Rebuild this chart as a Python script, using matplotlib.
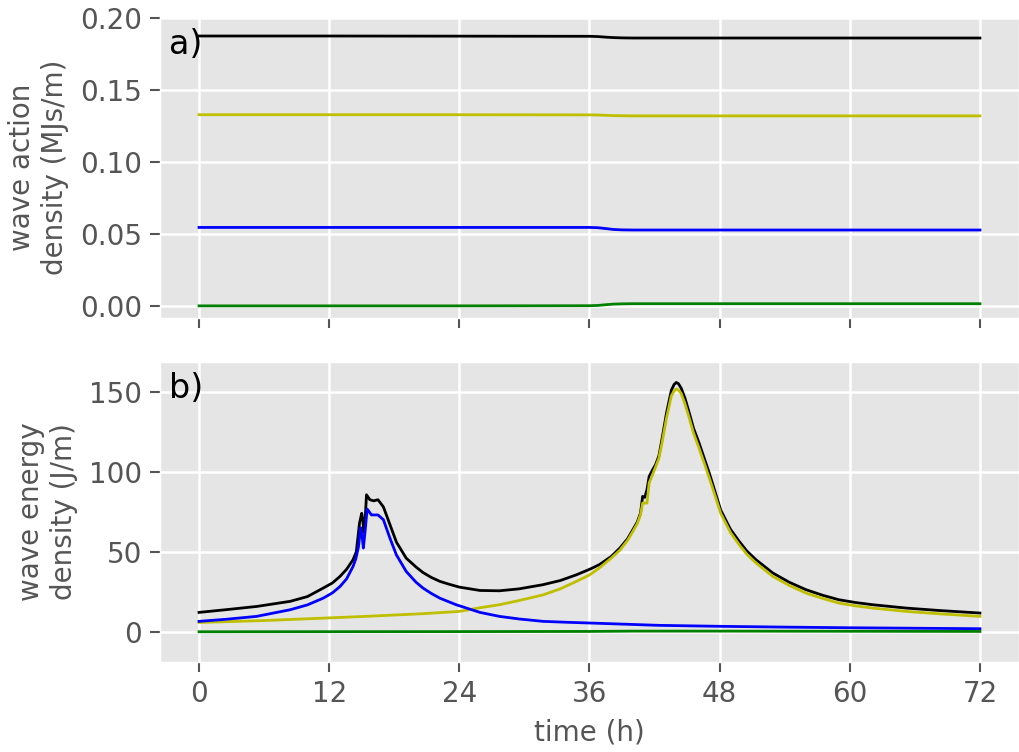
import matplotlib.pyplot as plt

plt.style.use("ggplot")

# panel a) wave action density (MJs/m)
t_a = [0, 12, 24, 36, 36.8, 37.5, 38.2, 39.0, 40, 48, 60, 72]
action_total = [0.1875, 0.1875, 0.1874, 0.1873, 0.1871, 0.1867, 0.1864, 0.1862, 0.1861, 0.1861, 0.1861, 0.1861]
action_swell = [0.1328, 0.1328, 0.1328, 0.1327, 0.1326, 0.1324, 0.1322, 0.1321, 0.1320, 0.1320, 0.1320, 0.1320]
action_sea = [0.0545, 0.0545, 0.0545, 0.0545, 0.0543, 0.0537, 0.0531, 0.0528, 0.0527, 0.0527, 0.0527, 0.0527]
action_other = [0.0000, 0.0000, 0.0000, 0.0001, 0.0003, 0.0008, 0.0012, 0.0014, 0.0015, 0.0015, 0.0015, 0.0015]

# panel b) wave energy density (J/m)
t_tot = [0, 2.5, 5.3, 8.4, 10, 11.45, 12.3, 13.0, 13.6, 14.2, 14.5, 14.8, 15.0, 15.1, 15.2, 15.3, 15.44,
         15.75, 16.1, 16.5, 17.0, 17.6, 18.2, 19.1, 20.0, 20.65, 21.4, 22.2, 23.0, 24.0, 25.9, 27.7,
         29.5, 31.7, 33.3, 34.8, 36.0, 36.9, 38.0, 38.8, 39.5, 40.0, 40.4, 40.7, 40.9, 41.1, 41.3, 41.5,
         41.8, 42.1, 42.4, 42.7, 43.1, 43.55, 43.8, 44.0, 44.2, 44.45, 44.8, 45.2, 45.6, 46.1, 46.6,
         47.05, 47.6, 48.1, 49.0, 49.8, 50.5, 51.35, 52.9, 54.4, 55.95, 57.5, 59.0, 60.5, 62.1, 65.2,
         68.2, 72.0]
energy_total = [12.1, 13.8, 15.8, 19.0, 22.0, 27.3, 30.5, 34.6, 39.0, 45.0, 50.0, 68.0, 74.0, 70.0, 62.0,
                68.0, 85.6, 82.5, 81.8, 82.5, 78.0, 67.0, 56.0, 46.0, 40.5, 37.0, 34.0, 31.5, 29.8,
                27.9, 25.8, 25.6, 26.8, 29.4, 32.0, 35.6, 39.0, 41.9, 47.0, 52.3, 58.0, 63.8, 68.5,
                74.0, 84.6, 84.0, 88.8, 97.0, 101.0, 104.5, 110.0, 121.0, 136.7, 151.0, 154.5, 155.8,
                155.0, 152.3, 146.0, 136.7, 127.0, 118.0, 108.0, 99.0, 87.0, 76.0, 64.0, 56.5, 50.5,
                45.0, 36.7, 31.0, 26.3, 22.8, 20.0, 18.3, 16.9, 14.8, 13.3, 11.7]
t_swell = [0, 6, 11.45, 16, 20.65, 24.0, 25.9, 27.7, 29.5, 31.7, 33.3, 34.8, 36.0, 36.9, 38.0, 38.8,
           39.5, 40.0, 40.4, 40.7, 40.9, 41.3, 41.5, 41.8, 42.1, 42.4, 42.7, 43.1, 43.55, 43.8, 44.0,
           44.2, 44.45, 44.8, 45.2, 45.6, 46.1, 46.6, 47.05, 47.6, 48.1, 49.0, 49.8, 50.5, 51.35,
           52.9, 54.4, 55.95, 57.5, 59.0, 60.5, 62.1, 65.2, 68.2, 72.0]
energy_swell = [5.8, 7.0, 8.5, 9.8, 11.3, 12.7, 15.0, 16.9, 19.5, 23.0, 26.8, 31.5, 35.5, 39.8, 46.0,
                51.0, 57.0, 62.7, 67.5, 73.0, 80.4, 80.4, 93.0, 98.0, 103.0, 108.5, 118.5, 133.5,
                147.5, 150.5, 151.7, 151.0, 149.0, 142.5, 133.5, 124.0, 114.8, 105.0, 96.0, 84.5,
                74.0, 62.0, 54.4, 48.5, 43.0, 34.6, 29.0, 24.2, 20.8, 17.9, 16.2, 14.8, 12.7, 11.25, 9.6]
t_sea = [0, 2.5, 5.3, 8.4, 10, 11.45, 12.3, 13.0, 13.6, 14.2, 14.45, 14.7, 14.9, 15.05, 15.15, 15.3,
         15.5, 15.9, 16.5, 17.0, 17.6, 18.2, 19.1, 20.0, 20.65, 21.4, 22.2, 23.0, 23.7, 25.9, 27.7,
         29.5, 31.7, 34.0, 36.3, 42.4, 48.0, 54.0, 60.0, 66.0, 72.0]
energy_sea = [6.5, 7.8, 9.6, 13.75, 16.8, 21.0, 24.3, 28.3, 33.0, 40.8, 45.5, 53.0, 65.0, 59.0, 52.3,
              62.0, 76.7, 73.0, 73.0, 70.0, 58.5, 48.0, 37.7, 31.0, 27.3, 24.0, 21.0, 18.8, 16.9, 12.1,
              9.6, 8.0, 6.5, 5.9, 5.4, 4.0, 3.4, 2.9, 2.5, 2.2, 1.9]
t_other = [0, 24, 36, 40, 48, 60, 72]
energy_other = [0.0, 0.1, 0.2, 0.4, 0.4, 0.3, 0.2]

fig = plt.figure(figsize=(10.19, 7.52), dpi=100)
ax1 = fig.add_axes([0.157, 0.577, 0.843, 0.400])
ax2 = fig.add_axes([0.157, 0.120, 0.843, 0.399], sharex=ax1)

ax1.plot(t_a, action_total, color="k", lw=2)
ax1.plot(t_a, action_swell, color="y", lw=2)
ax1.plot(t_a, action_sea, color="b", lw=2)
ax1.plot(t_a, action_other, color="g", lw=2)

ax2.plot(t_tot, energy_total, color="k", lw=2)
ax2.plot(t_swell, energy_swell, color="y", lw=2)
ax2.plot(t_sea, energy_sea, color="b", lw=2)
ax2.plot(t_other, energy_other, color="g", lw=2)

ax1.set_ylim(-0.0085, 0.2005)
ax2.set_ylim(-18.75, 168.75)
ax2.set_xlim(-3.6, 75.6)
ax2.set_xticks([0, 12, 24, 36, 48, 60, 72])
ax1.set_yticks([0.0, 0.05, 0.10, 0.15, 0.20])
ax1.set_yticklabels(["0.00", "0.05", "0.10", "0.15", "0.20"])
ax2.set_yticks([0, 50, 100, 150])
plt.setp(ax1.get_xticklabels(), visible=False)

for ax in (ax1, ax2):
    ax.tick_params(labelsize=20, length=7, width=1.5, pad=6)
    ax.grid(True, color="white", lw=1.8)
ax1.set_ylabel("wave action\ndensity (MJs/m)", fontsize=20, labelpad=8)
ax2.set_ylabel("wave energy\ndensity (J/m)", fontsize=20, labelpad=8)
ax2.set_xlabel("time (h)", fontsize=20, labelpad=8)

ax1.text(0.01, 0.965, "a)", transform=ax1.transAxes, fontsize=24, va="top")
ax2.text(0.01, 0.965, "b)", transform=ax2.transAxes, fontsize=24, va="top")

fig.savefig("out.png", dpi=100)
